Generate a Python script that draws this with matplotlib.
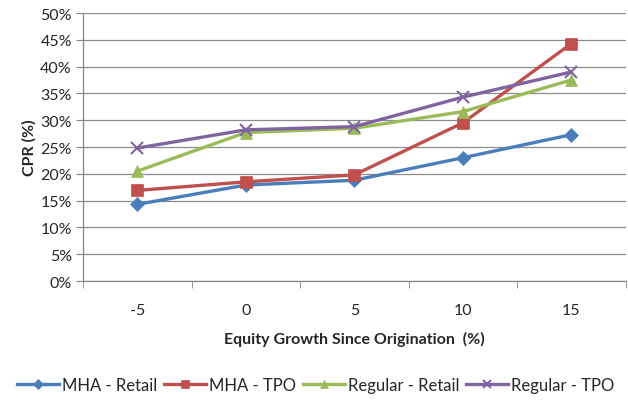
import matplotlib
matplotlib.use("Agg")
import matplotlib.pyplot as plt
from matplotlib.ticker import FixedLocator

plt.rcParams['font.family'] = ['Lato', 'DejaVu Sans']

categories = ["-5", "0", "5", "10", "15"]
mha_retail = [14.3, 17.9, 18.8, 23.0, 27.3]
mha_tpo = [16.9, 18.5, 19.8, 29.5, 44.3]
regular_retail = [20.5, 27.7, 28.5, 31.6, 37.5]
regular_tpo = [24.8, 28.2, 28.8, 34.3, 39.0]
y_ticks = [0, 5, 10, 15, 20, 25, 30, 35, 40, 45, 50]

series = [
    ("MHA - Retail", mha_retail, "#4A7EBB", "D", 7),
    ("MHA - TPO", mha_tpo, "#C0504D", "s", 8),
    ("Regular - Retail", regular_retail, "#9BBB59", "^", 8),
    ("Regular - TPO", regular_tpo, "#8064A2", "x", 8),
]

fig = plt.figure(figsize=(6.28, 4.06), dpi=100)
ax = fig.add_axes([0.1322, 0.3054, 0.864, 0.6601])

x = list(range(len(categories)))
for name, vals, color, marker, ms in series:
    ax.plot(x, vals, color=color, lw=2.4, marker=marker, markersize=ms,
            markeredgewidth=1.5 if marker == "x" else 0.5,
            markeredgecolor=color, markerfacecolor=color, label=name,
            zorder=3)

ax.set_xlim(-0.5, len(categories) - 0.5)
ax.set_ylim(0, 50)
ax.set_xticks(x)
ax.set_xticklabels(categories)
ax.xaxis.set_minor_locator(FixedLocator([i + 0.5 for i in range(-1, len(categories))]))
ax.tick_params(axis='x', which='major', length=0, pad=16)
ax.tick_params(axis='x', which='minor', length=5, color="#868686", direction='out')
ax.set_yticks(y_ticks)
ax.set_yticklabels([f"{v}%" for v in y_ticks])
ax.tick_params(axis='y', length=5, color="#868686", direction='out', pad=3)
ax.tick_params(labelsize=11.5, labelcolor="#262626")

ax.grid(axis='y', color="#8C8C8C", lw=0.9)
ax.set_axisbelow(True)
for side in ["top", "right"]:
    ax.spines[side].set_visible(False)
for side in ["left", "bottom"]:
    ax.spines[side].set_color("#868686")
    ax.spines[side].set_linewidth(0.9)

ax.set_xlabel("Equity Growth Since Origination  (%)", fontsize=11.5,
              fontweight='bold', color="#262626", labelpad=10)
ax.set_ylabel("CPR (%)", fontsize=11.5, fontweight='bold', color="#262626",
              labelpad=3)

fig.legend(loc='center', bbox_to_anchor=(0.503, 0.05), ncol=4, frameon=False,
           fontsize=12, handlelength=2.5, columnspacing=0.4, handletextpad=0.2,
           markerscale=0.75, labelcolor="#262626")

fig.savefig("out.png", dpi=100)
